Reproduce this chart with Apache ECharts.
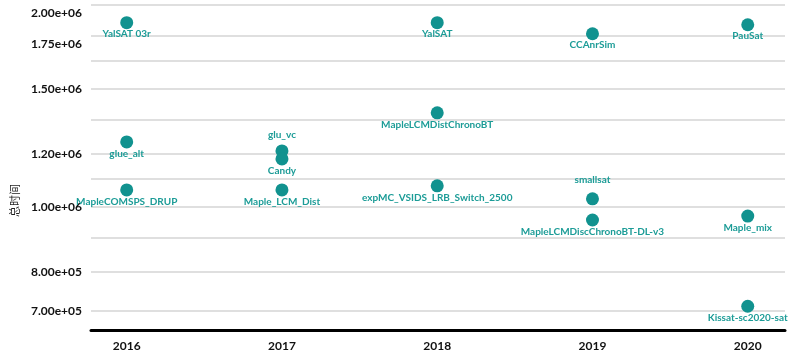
<!DOCTYPE html>
<html>
<head>
<meta charset="utf-8">
<script src="https://cdn.jsdelivr.net/npm/echarts@6/dist/echarts.min.js"></script>
<style>html,body{margin:0;padding:0;background:#fff}#c{width:800px;height:354px}</style>
</head>
<body>
<div id="c"></div>
<script>
// ---- data ----
const years = [2016, 2017, 2018, 2019, 2020];
const solverYears = [2016, 2016, 2016, 2017, 2017, 2017, 2018, 2018, 2018, 2019, 2019, 2019, 2020, 2020, 2020];
const solverNames = ['YalSAT 03r', 'glue_alt', 'MapleCOMSPS_DRUP', 'glu_vc', 'Candy', 'Maple_LCM_Dist',
  'YalSAT', 'MapleLCMDistChronoBT', 'expMC_VSIDS_LRB_Switch_2500', 'CCAnrSim', 'smallsat',
  'MapleLCMDiscChronoBT-DL-v3', 'PauSat', 'Maple_mix', 'Kissat-sc2020-sat'];
const totalTimes = [1882000, 1250000, 1060000, 1212000, 1179000, 1060000,
  1882000, 1381000, 1075000, 1812000, 1028000, 956000, 1869000, 969000, 711000];
const yTickValues = [700000, 800000, 1000000, 1200000, 1500000, 1750000, 2000000];
const gridValues = [700000, 800000, 900000, 1000000, 1100000, 1200000, 1350000, 1500000, 1650000, 1800000, 2000000];
const yAxisName = '总时间';

// ---- style ----
const labelAbove = { 'glu_vc': 5, 'smallsat': 8 };
const teal = '#11928f';
const labelTeal = '#1c9c97';
const L = Math.log10;

function fmtExp(v) {
  const s = v.toExponential(2); // e.g. 2.00e+6
  const m = s.match(/^(.*)e([+-])(\d+)$/);
  return m[1] + 'e' + m[2] + (m[3].length < 2 ? '0' + m[3] : m[3]);
}

const points = solverNames.map((n, i) => {
  const p = { name: n, value: [solverYears[i], L(totalTimes[i])] };
  if (labelAbove[n] !== undefined) {
    p.label = { position: 'top', distance: labelAbove[n] };
  }
  return p;
});

const chart = echarts.init(document.getElementById('c'), null, { renderer: 'canvas' });
chart.setOption({
  animation: false,
  grid: { left: 91, right: 15, top: 5, bottom: 24, containLabel: false },
  xAxis: {
    type: 'value', min: 2015.77, max: 2020.24,
    axisLine: { show: true, lineStyle: { color: '#000', width: 3 } },
    axisTick: { show: false },
    splitLine: { show: false },
    axisLabel: {
      customValues: years, margin: 10,
      fontFamily: 'Lato', fontWeight: 'bold', fontSize: 12, color: '#111',
      formatter: v => String(Math.round(v))
    }
  },
  yAxis: {
    type: 'value', min: L(655300), max: L(2000000),
    name: yAxisName, nameLocation: 'middle', nameGap: 67, nameRotate: 90,
    nameTextStyle: { fontFamily: 'Noto Sans CJK SC', fontSize: 11, color: '#222', padding: [0, 66, 0, 0] },
    axisLine: { show: false },
    axisTick: { show: false, customValues: gridValues.map(L) },
    splitLine: { show: true, lineStyle: { color: '#d4d4d4', width: 1.5 } },
    axisLabel: {
      customValues: yTickValues.map(L), margin: 9,
      fontFamily: 'Lato', fontWeight: 'bold', fontSize: 12, color: '#111',
      formatter: v => {
        const t = fmtExp(Math.pow(10, v));
        return Math.abs(v - L(2000000)) < 1e-6 ? '{top|' + t + '}' : t;
      },
      rich: { top: { fontFamily: 'Lato', fontWeight: 'bold', fontSize: 12, color: '#111', padding: [16, 0, 0, 0] } }
    }
  },
  series: [{
    type: 'scatter',
    symbolSize: 13,
    itemStyle: { color: teal, opacity: 1 },
    label: {
      show: true, position: 'bottom', distance: 0,
      formatter: p => p.name,
      fontFamily: 'Lato', fontWeight: 'bold', fontSize: 10, color: labelTeal
    },
    labelLayout: { hideOverlap: false },
    data: points
  }]
});
</script>
</body>
</html>
